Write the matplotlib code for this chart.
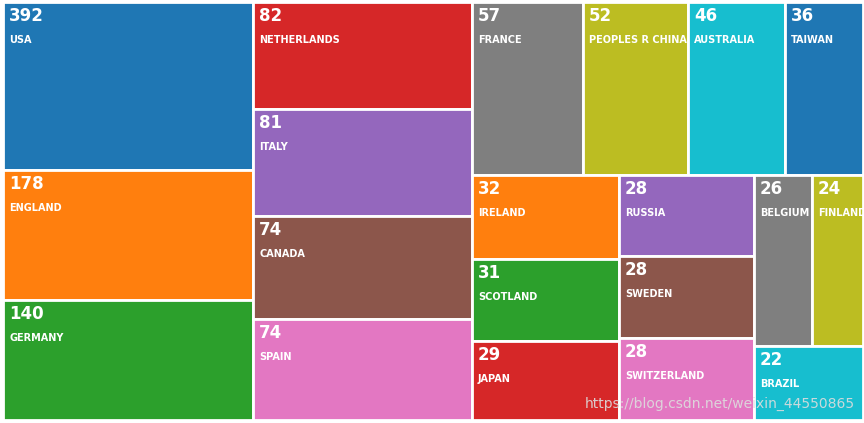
import matplotlib
matplotlib.use("Agg")
import matplotlib.pyplot as plt
from matplotlib.patches import Rectangle

countries = ["USA","ENGLAND","GERMANY","NETHERLANDS","ITALY","CANADA","SPAIN",
             "FRANCE","PEOPLES R CHINA","AUSTRALIA","TAIWAN","IRELAND","SCOTLAND","JAPAN",
             "RUSSIA","SWEDEN","SWITZERLAND","BELGIUM","FINLAND","BRAZIL"]
counts = [392,178,140,82,81,74,74,57,52,46,36,32,31,29,28,28,28,26,24,22]

# display weights of the treemap tiles (relative extents)
layout = ("h", [
    (250, ("v", [(167, 0), (130, 1), (119, 2)])),
    (219, ("v", [(106, 3), (107, 4), (102, 5), (101, 6)])),
    (391, ("v", [
        (173, ("h", [(111, 7), (105, 8), (97, 9), (78, 10)])),
        (245, ("h", [
            (147, ("v", [(84, 11), (82, 12), (79, 13)])),
            (135, ("v", [(81, 14), (82, 15), (82, 16)])),
            (109, ("v", [(171, ("h", [(58, 17), (51, 18)])), (74, 19)])),
        ])),
    ])),
])

colors = plt.get_cmap("tab10").colors

fig = plt.figure(figsize=(8.64, 4.23), dpi=100)
ax = fig.add_axes([0, 0, 1, 1])
ax.set_xlim(0, 864); ax.set_ylim(423, 0); ax.axis("off")

def draw(node, x, y, w, h):
    if isinstance(node, int):
        ax.add_patch(Rectangle((x, y), w, h, facecolor=colors[node % 10],
                               edgecolor="white", linewidth=2))
        ax.text(x + 6, y + 5, str(counts[node]), color="white", fontsize=12,
                fontweight="bold", va="top", ha="left", clip_on=True)
        ax.text(x + 6, y + 33, countries[node], color="white", fontsize=7,
                fontweight="bold", va="top", ha="left", clip_on=True)
        return
    d, kids = node
    tot = sum(k[0] for k in kids)
    pos = x if d == "h" else y
    for wt, child in kids:
        if d == "h":
            s = w * wt / tot; draw(child, pos, y, s, h)
        else:
            s = h * wt / tot; draw(child, x, pos, w, s)
        pos += s

draw(layout, 3, 2, 860, 418)
ax.text(855, 404, "https://blog.csdn.net/weixin_44550865", color="#dddddd",
        fontsize=10, ha="right", va="center", alpha=0.9)
fig.savefig("out.png", dpi=100)
